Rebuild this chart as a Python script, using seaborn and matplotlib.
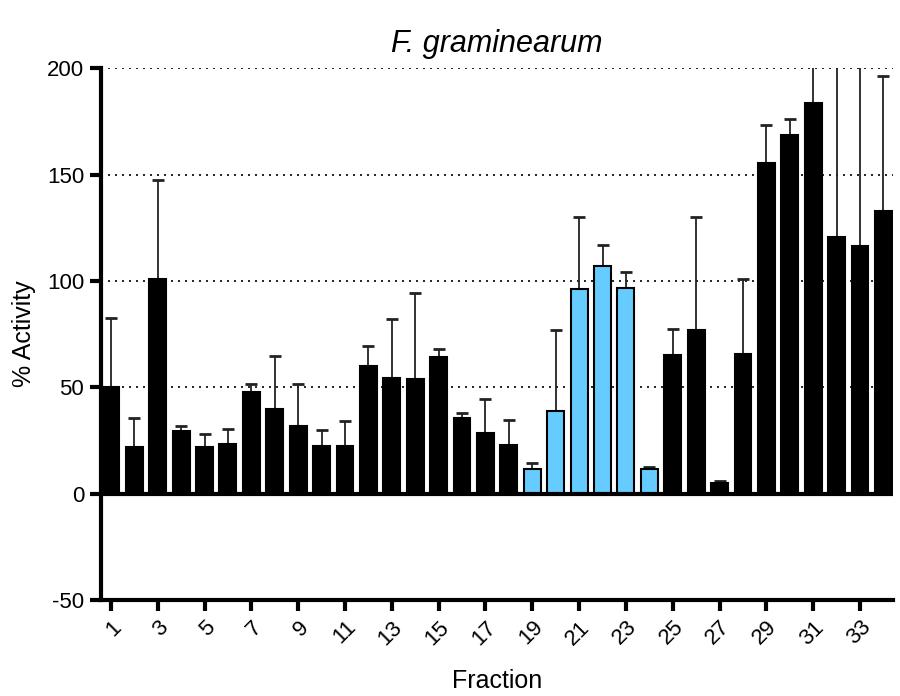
import numpy as np
import pandas as pd
import matplotlib
matplotlib.use('Agg')
import matplotlib.pyplot as plt
import seaborn as sns

# Values
fractions = [str(i) for i in range(1, 35)]
activity = [50, 22, 101, 29.5, 22, 23.5, 48, 40, 32, 22.5, 22.5, 60,
            54.5, 54, 64, 35.5, 28.5, 23, 11.5, 39, 96, 107, 96.5, 11.5,
            65, 77, 5, 65.5, 155.5, 168.5, 183.5, 120.5, 116.5, 133]
err_top = [82.5, 35.5, 147.5, 32, 28, 30.5, 51.5, 64.5, 51.5, 30, 34, 69.5,
           82, 94.5, 68, 38, 44.5, 34.5, 14.5, 77, 130, 117, 104, 12.5,
           77.5, 130, 6, 101, 173.5, 176, 215, 240, 235, 196.5]
groups = ['black'] * 18 + ['blue'] * 6 + ['black'] * 10
tick_labels = [str(i) for i in range(1, 35, 2)]

df = pd.DataFrame({'fraction': fractions, 'activity': activity, 'group': groups})

plt.rcParams['font.family'] = ['Liberation Sans', 'DejaVu Sans']
plt.rcParams['axes.unicode_minus'] = False

fig = plt.figure(figsize=(9, 6.96), dpi=100)
ax = fig.add_axes([0.112, 0.138, 0.88, 0.764])

# dotted gridlines behind the bars
for yv in [50, 100, 150, 200]:
    ax.axhline(yv, color='black', lw=1.2, ls=(0, (1.2, 3)), zorder=0)

sns.barplot(data=df, x='fraction', y='activity', hue='group', dodge=False,
            palette={'black': 'black', 'blue': '#66CCFF'}, saturation=1,
            width=0.72, edgecolor='black', linewidth=1.5, legend=False,
            ax=ax, zorder=2)

pos = np.arange(len(fractions))
upper = np.array(err_top) - np.array(activity)
ax.errorbar(pos, activity, yerr=[np.zeros(len(pos)), upper], fmt='none',
            ecolor='#222222', elinewidth=1.3, capsize=4, capthick=2, zorder=1)

ax.axhline(0, color='black', lw=3, zorder=3)

ax.set_ylim(-50, 200)
ax.set_xlim(-0.43, 33.4)
ax.set_yticks([-50, 0, 50, 100, 150, 200])
ax.set_xticks(pos[::2])
ax.set_xticklabels(tick_labels, rotation=45, ha='right', rotation_mode='anchor')

for side in ['top', 'right']:
    ax.spines[side].set_visible(False)
for side in ['left', 'bottom']:
    ax.spines[side].set_linewidth(3)
ax.tick_params(axis='both', direction='out', length=8, width=3, labelsize=16, pad=4)

ax.set_xlabel('Fraction', fontsize=18, labelpad=14)
ax.set_ylabel('% Activity', fontsize=18, labelpad=8)
ax.set_title('F. graminearum', fontsize=22, style='italic', pad=12)

fig.savefig('out.png', dpi=100)
